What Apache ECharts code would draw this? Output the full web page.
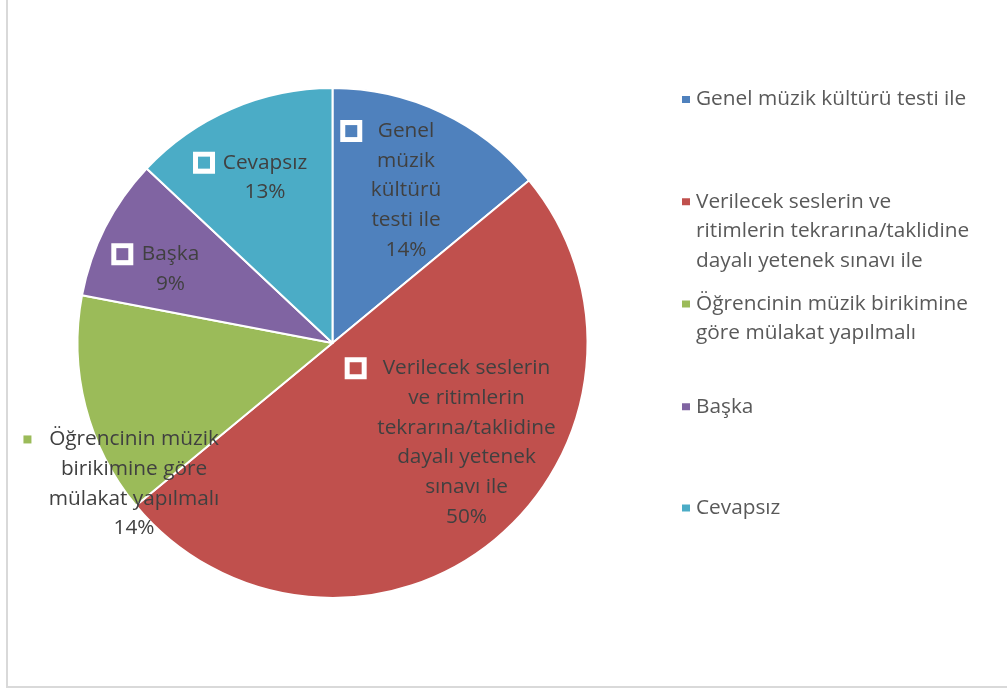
<!DOCTYPE html>
<html>
<head>
<meta charset="utf-8">
<script src="https://cdn.jsdelivr.net/npm/echarts@6/dist/echarts.min.js"></script>
<style>html,body{margin:0;padding:0;background:#fff}#c{width:1007px;height:693px}</style>
</head>
<body>
<div id="c"></div>
<script>
const categories = [
  'Genel müzik kültürü testi ile',
  'Verilecek seslerin ve ritimlerin tekrarına/taklidine dayalı yetenek sınavı ile',
  'Öğrencinin müzik birikimine göre mülakat yapılmalı',
  'Başka',
  'Cevapsız'
];
const values = [14, 50, 14, 9, 13];
const colors = ['#4F81BD', '#C0504D', '#9BBB59', '#8064A2', '#4BACC6'];
const sliceLabelLines = [
  ['Genel', 'müzik', 'kültürü', 'testi ile'],
  ['Verilecek seslerin', 've ritimlerin', 'tekrarına/taklidine', 'dayalı yetenek', 'sınavı ile'],
  ['Öğrencinin müzik', 'birikimine göre', 'mülakat yapılmalı'],
  ['Başka'],
  ['Cevapsız']
];
const legendLines = [
  ['Genel müzik kültürü testi ile'],
  ['Verilecek seslerin ve', 'ritimlerin tekrarına/taklidine', 'dayalı yetenek sınavı ile'],
  ['Öğrencinin müzik birikimine', 'göre mülakat yapılmalı'],
  ['Başka'],
  ['Cevapsız']
];

// layout (styling only)
const labelPos = [[406, 190.5], [466.5, 442.5], [134, 484], [170.5, 269], [265, 177.5]];
const labelGap = [20.5, 21, 17.7, 13.5, 12.8];
const legendCenters = [99.5, 201.7, 304, 406.7, 508];
const FONT = 'Open Sans';
const FS = 20.8;
const LH = 29.7;
const LLH = 29.5;

const rich = {
  t: { fontFamily: FONT, fontSize: FS, color: '#404040', lineHeight: LH }
};
colors.forEach((c, i) => {
  if (i === 2) {
    rich['box' + i] = { width: 8, height: 8, backgroundColor: c, lineHeight: LH };
  } else {
    rich['box' + i] = { width: 12, height: 12, backgroundColor: c, borderColor: '#fff', borderWidth: 5, lineHeight: LH };
  }
  rich['gap' + i] = { width: labelGap[i], lineHeight: LH };
  rich['pad' + i] = { width: labelGap[i] + (i === 2 ? 8 : 12), lineHeight: LH };
});

const chart = echarts.init(document.getElementById('c'), null, { renderer: 'canvas' });

const legends = categories.map((name, i) => {
  const n = legendLines[i].length;
  // prepend blank lines so the first line sits at the marker's height
  const txt = '\n'.repeat(n - 1) + legendLines[i].join('\n');
  return {
    show: true,
    orient: 'vertical',
    left: 680,
    top: legendCenters[i] - (2 * n - 1) * LLH / 2,
    padding: 0,
    itemWidth: 10,
    itemHeight: 9,
    icon: 'rect',
    selectedMode: false,
    data: [name],
    formatter: () => txt,
    textStyle: {
      fontFamily: FONT,
      fontSize: FS,
      color: '#595959',
      lineHeight: LLH
    }
  };
});

chart.setOption({
  animation: false,
  color: colors,
  graphic: [{
    type: 'rect',
    shape: { x: 7, y: -10, width: 1030, height: 697 },
    style: { fill: 'none', stroke: '#d9d9d9', lineWidth: 2 },
    silent: true
  }],
  legend: legends,
  series: [{
    type: 'pie',
    center: [332.5, 343],
    radius: 255,
    startAngle: 90,
    clockwise: true,
    avoidLabelOverlap: false,
    emphasis: { disabled: true },
    itemStyle: { borderColor: '#fff', borderWidth: 2 },
    label: {
      show: true,
      position: 'inside',
      rich: rich,
      formatter: function (p) {
        const i = p.dataIndex;
        const lines = sliceLabelLines[i];
        const out = ['{box' + i + '|}{gap' + i + '|}{t|' + lines[0] + '}{pad' + i + '|}'];
        for (let k = 1; k < lines.length; k++) out.push('{t|' + lines[k] + '}');
        out.push('{t|' + Math.round(p.percent) + '%}');
        return out.join('\n');
      }
    },
    labelLine: { show: false },
    labelLayout: function (params) {
      const p = labelPos[params.dataIndex];
      return { x: p[0], y: p[1], align: 'center', verticalAlign: 'middle' };
    },
    data: categories.map((name, i) => ({ name: name, value: values[i] }))
  }]
});
</script>
</body>
</html>
